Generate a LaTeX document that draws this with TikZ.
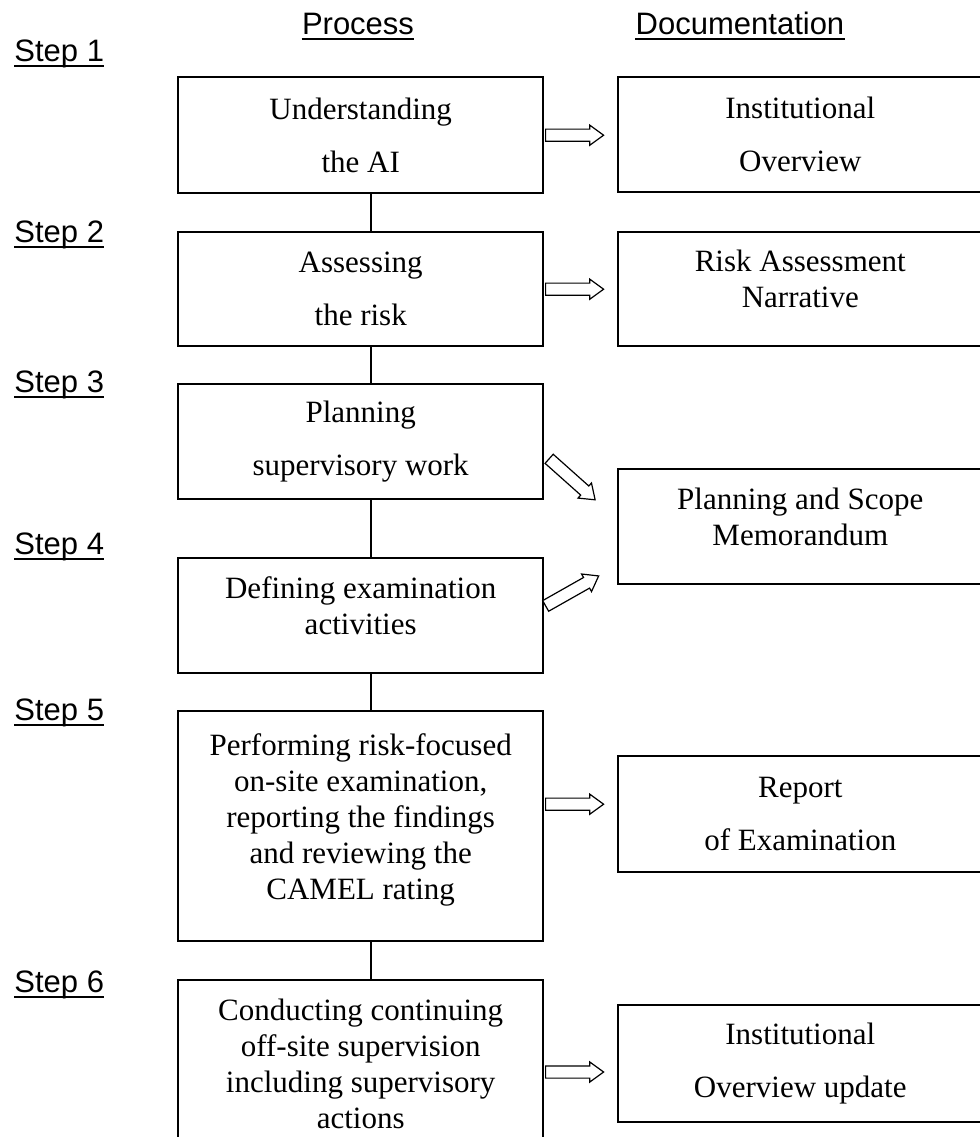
\documentclass[tikz,border=0pt]{standalone}
\usepackage{fontspec}
\setmainfont{Liberation Serif}
\setsansfont{Liberation Sans}
\usetikzlibrary{shapes.arrows,calc}

\tikzset{
  procbox/.style={draw, line width=1.2pt, minimum width=182.5pt, inner sep=0pt, align=center, font=\fontsize{15.5}{26.5}\selectfont},
  docbox/.style={draw, line width=0.8pt, minimum width=182.5pt, inner sep=0pt, align=center, font=\fontsize{15.5}{26.5}\selectfont},
  tight/.style={font=\fontsize{15.5}{18}\selectfont},
  steplabel/.style={anchor=base west, inner sep=0pt, font=\sffamily\fontsize{15.5}{17}\selectfont},
  headlabel/.style={anchor=base, inner sep=0pt, font=\sffamily\fontsize{15.5}{17}\selectfont},
  blockarrow/.style={single arrow, draw, fill=white, line width=0.6pt, inner xsep=0pt, inner ysep=2.75pt, single arrow head extend=2pt, single arrow tip angle=72, outer sep=0pt},
}

% extra empty line at the bottom lifts the text a little
\newcommand\lift{\\[-8pt]\mbox{}}
\newcommand\hollowarrow[2]{\path let \p1=(#1), \p2=(#2), \n1={atan2(\y2-\y1,\x2-\x1)}, \n2={veclen(\x2-\x1,\y2-\y1)} in node[blockarrow, minimum height=\n2, rotate=\n1] at ($(\p1)!0.5!(\p2)$) {};}

\begin{document}
\begin{tikzpicture}[x=0.5pt, y=-0.5pt]
  \useasboundingbox (0,0) rectangle (980,1137);

  \node[headlabel] (hproc) at (358,34) {Process};
  \node[headlabel] (hdoc) at (740,34) {Documentation};
  \foreach \h in {hproc,hdoc}
    \draw[line width=1pt] ([yshift=-2.5pt]\h.base west) -- ([yshift=-2.5pt]\h.base east);

  \foreach \n/\y in {1/61,2/242,3/392,4/554,5/720,6/992}{
    \node[steplabel] (step\n) at (14,\y) {Step \n};
    \draw[line width=1pt] ([yshift=-2.5pt]step\n.base west) -- ([yshift=-2.5pt]step\n.base east);
  }

  % process column
  \node[procbox, anchor=north west, minimum height=58pt] (p1) at (177,76) {Understanding\\the AI};
  \node[procbox, anchor=north west, minimum height=57pt] (p2) at (177,231) {Assessing\\the risk};
  \node[procbox, anchor=north west, minimum height=57.5pt] (p3) at (177,383) {Planning\\supervisory work};
  \node[procbox, tight, anchor=north west, minimum height=57.5pt] (p4) at (177,557) {Defining examination\\activities\lift};
  \node[procbox, tight, anchor=north west, minimum height=115pt] (p5) at (177,710) {Performing risk-focused\\on-site examination,\\reporting the findings\\and reviewing the\\CAMEL rating\lift};
  \node[procbox, tight, anchor=north west, minimum height=84pt] (p6) at (177,979) {Conducting continuing\\off-site supervision\\including supervisory\\actions};

  \foreach \a/\b in {p1/p2,p2/p3,p3/p4,p4/p5,p5/p6}
    \draw[line width=1.2pt] ([xshift=5pt]\a.south) -- ([xshift=5pt]\b.north);

  % documentation column
  \node[docbox, anchor=north west, minimum height=57.5pt] (d1) at (617,76) {Institutional\\Overview};
  \node[docbox, tight, anchor=north west, minimum height=57pt] (d2) at (617,231) {Risk Assessment\\Narrative\lift};
  \node[docbox, tight, anchor=north west, minimum height=57.5pt] (d3) at (617,468) {Planning and Scope\\Memorandum\lift};
  \node[docbox, anchor=north west, minimum height=58pt] (d4) at (617,755) {Report\\of Examination};
  \node[docbox, anchor=north west, minimum height=58.5pt] (d5) at (617,1004) {Institutional\\Overview update};

  \coordinate (a3s) at (546,456);
  \coordinate (a3e) at (592,497);
  \coordinate (a4s) at (542,608);
  \coordinate (a4e) at (595,578);

  \hollowarrow{$(p1.east)+(-3,0)$}{$(p1.east)+(55,0)$}
  \hollowarrow{$(p2.east)+(-3,0)$}{$(p2.east)+(55,0)$}
  \hollowarrow{a3s}{a3e}
  \hollowarrow{a4s}{a4e}
  \hollowarrow{$(p5.east)+(-3,-22)$}{$(p5.east)+(55,-22)$}
  \hollowarrow{$(p6.east |- 0,1072)+(-3,0)$}{$(p6.east |- 0,1072)+(55,0)$}
\end{tikzpicture}
\end{document}
